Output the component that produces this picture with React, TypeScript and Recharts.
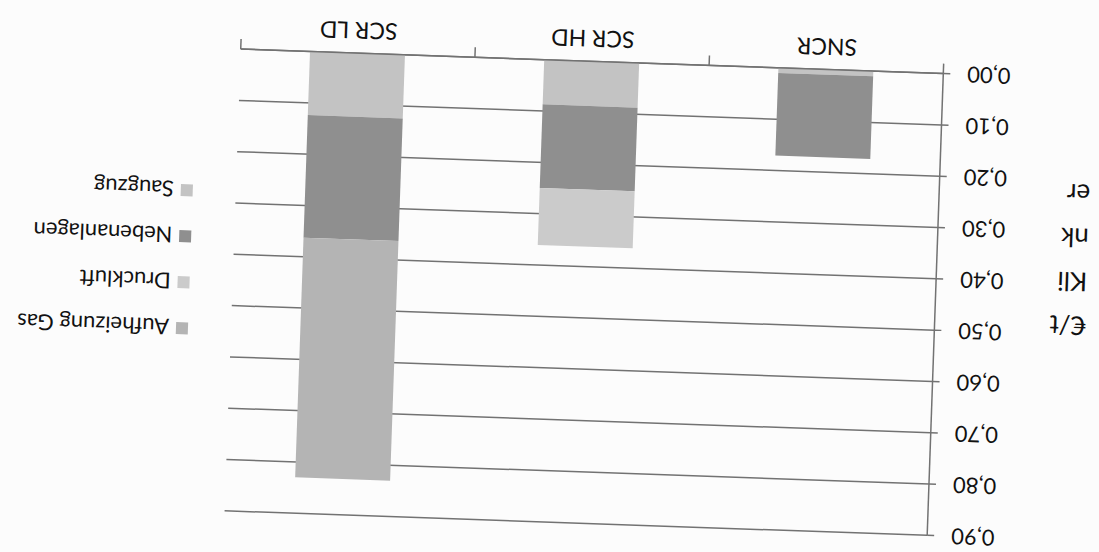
import React from "react";
import { Bar, BarChart, CartesianGrid, XAxis, YAxis } from "recharts";

// values read from the (scanned, upside-down) reference, stacked bottom to top
const categories = ["SNCR", "SCR HD", "SCR LD"];
const saugzug = [0.01, 0.087, 0.124];
const nebenanlagen = [0.161, 0.163, 0.239];
const druckluft = [0, 0.111, 0];
const aufheizungGas = [0, 0, 0.467];
const yTicks = [0, 0.1, 0.2, 0.3, 0.4, 0.5, 0.6, 0.7, 0.8, 0.9];
const yTitleLines = ["€/t", "Kli", "nk", "er"];

const series = [
  { key: "saugzug", name: "Saugzug", color: "#c3c3c3", values: saugzug },
  { key: "nebenanlagen", name: "Nebenanlagen", color: "#8f8f8f", values: nebenanlagen },
  { key: "druckluft", name: "Druckluft", color: "#cbcbcb", values: druckluft },
  { key: "aufheizungGas", name: "Aufheizung Gas", color: "#b4b4b4", values: aufheizungGas },
];

const data = categories.map((name, i) => {
  const row: any = { name };
  series.forEach((s) => (row[s.key] = s.values[i]));
  return row;
});

const W = 1099;
const H = 552;
const FONT = "Lato, 'Open Sans', sans-serif";
const margin = { top: 30, right: 233, bottom: 20, left: 63 };
const yAxisWidth = 100;
const plotWidth = W - margin.left - margin.right - yAxisWidth;
const band = plotWidth / categories.length;
const gridColor = "#727272";

const fmt = (v: number) => v.toFixed(2).replace(".", ",");

function CategoryTick(props: any) {
  const { x, y, payload, index } = props;
  const last = index === categories.length - 1;
  return (
    <g>
      <line x1={x - band / 2} x2={x - band / 2} y1={y - 10} y2={y} stroke={gridColor} strokeWidth={1.5} />
      {last && (
        <line x1={x + band / 2} x2={x + band / 2} y1={y - 10} y2={y} stroke={gridColor} strokeWidth={1.5} />
      )}
      <text x={x} y={y + 13} dy="0.35em" textAnchor="middle" fontSize={23} fill="#111" fontFamily={FONT}>
        {payload.value}
      </text>
    </g>
  );
}

export default function App() {
  return (
    <div style={{ position: "absolute", left: 0, top: 0, width: W, height: H, background: "#fcfcfc", overflow: "hidden" }}>
      <div
        style={{
          position: "absolute",
          left: 0,
          top: 0,
          width: W,
          height: H,
          transform: "rotate(182deg)",
          fontFamily: FONT,
          color: "#111",
        }}
      >
        <BarChart width={W} height={H} data={data} margin={margin} barSize={95}>
          <CartesianGrid vertical={false} stroke={gridColor} strokeWidth={1.5} />
          <XAxis
            dataKey="name"
            height={40}
            tickSize={10}
            tickMargin={0}
            tickLine={false}
            axisLine={{ stroke: gridColor, strokeWidth: 1.5 }}
            tick={<CategoryTick />}
            interval={0}
          />
          <YAxis
            width={yAxisWidth}
            domain={[0, 0.9]}
            ticks={yTicks}
            tickFormatter={fmt}
            tickSize={7}
            tickMargin={17}
            axisLine={{ stroke: gridColor, strokeWidth: 1.5 }}
            tickLine={{ stroke: gridColor, strokeWidth: 1.5 }}
            tick={{ fontSize: 22, fill: "#111", fontFamily: FONT }}
          />
          {series.map((s) => (
            <Bar key={s.key} dataKey={s.key} name={s.name} stackId="a" fill={s.color} isAnimationActive={false} />
          ))}
        </BarChart>

        <div style={{ position: "absolute", left: 12, top: 222, fontSize: 26, lineHeight: "44px" }}>
          {yTitleLines.map((t) => (
            <div key={t}>{t}</div>
          ))}
        </div>

        <div style={{ position: "absolute", left: 909, top: 188 }}>
          {[...series].reverse().map((s) => (
            <div key={s.key} style={{ display: "flex", alignItems: "center", height: 46, fontSize: 22 }}>
              <span style={{ display: "inline-block", width: 12, height: 12, background: s.color, marginRight: 7 }} />
              <span>{s.name}</span>
            </div>
          ))}
        </div>
      </div>
    </div>
  );
}
